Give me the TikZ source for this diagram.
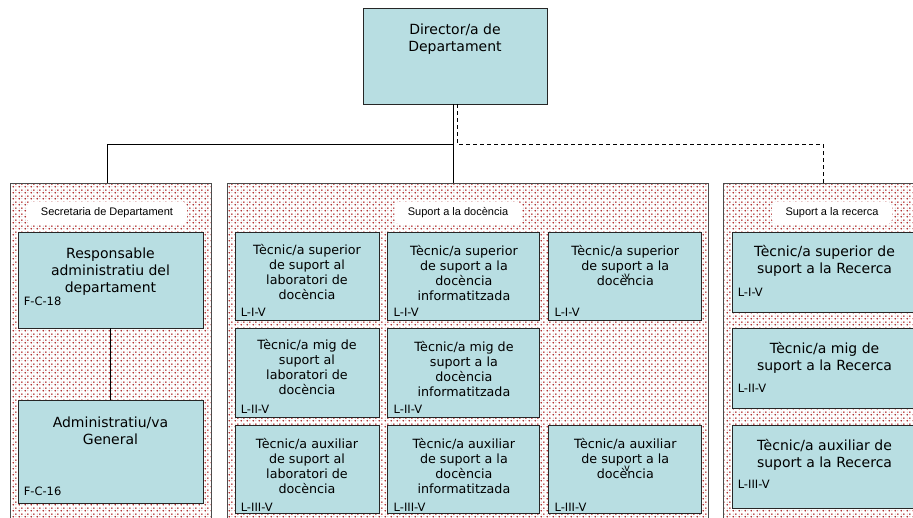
\documentclass[tikz,border=0pt]{standalone}
\usepackage{fontspec}
\setmainfont{DejaVu Sans}
\newfontfamily\arialfont{Liberation Sans}
\usepackage{tikz}
\usetikzlibrary{positioning,patterns}
\definecolor{boxblue}{RGB}{184,222,226}
\definecolor{dotred}{RGB}{170,30,30}
\pgfdeclarepatternformonly{reddots}{\pgfpointorigin}{\pgfpoint{6pt}{6pt}}{\pgfpoint{6pt}{6pt}}{%
  \pgfpathcircle{\pgfpoint{1.5pt}{1.5pt}}{1pt}%
  \pgfpathcircle{\pgfpoint{4.5pt}{4.5pt}}{1pt}%
  \pgfusepath{fill}}
\pgfdeclarepatternformonly{greydots}{\pgfpointorigin}{\pgfpoint{6pt}{6pt}}{\pgfpoint{6pt}{6pt}}{%
  \pgfpathcircle{\pgfpoint{4.5pt}{1.5pt}}{0.6pt}%
  \pgfpathcircle{\pgfpoint{1.5pt}{4.5pt}}{0.6pt}%
  \pgfusepath{fill}}
\tikzset{
    %Define style for the job boxes
    posbox/.style={
           rectangle,
           draw=black!85, line width=0.9pt,
           fill=boxblue,
           inner sep=0pt},
    %Define style for the group panels
    panel/.style={
           rectangle,
           draw=black!70, line width=0.9pt,
           preaction={pattern=greydots, pattern color=black!35},
           pattern=reddots, pattern color=dotred,
           anchor=north west,
           inner sep=0pt},
    paneltitle/.style={
           rectangle,
           rounded corners=5pt,
           fill=white,
           font=\arialfont\fontsize{11}{13}\selectfont,
           inner sep=0pt},
    % text inside the boxes
    txt/.style={
           anchor=north,
           align=center,
           inner sep=0pt,
           yshift=#1},
    code/.style={
           anchor=west,
           inner sep=0pt,
           font=\fontsize{11.5}{13}\selectfont,
           xshift=6pt,
           yshift=#1},
    bigtext/.style={font=\fontsize{14}{17}\selectfont},
    midtext/.style={font=\fontsize{12.7}{15}\selectfont},
    % Define connector style
    conn/.style={draw=black, line width=0.8pt}
}

\begin{document}
\begin{tikzpicture}[x=1pt,y=-1pt]
\clip (0,0) rectangle (913,517);
 %panels
\node[panel, minimum width=201pt, minimum height=360pt](sec) at (10,183){};
\node[panel, minimum width=481pt, minimum height=360pt](doc) at (227,183){};
\node[panel, minimum width=200pt, minimum height=360pt](rec) at (723,183){};
\node[paneltitle, minimum width=160pt, minimum height=23pt](sectitle) at (107,213){Secretaria de Departament};
\node[paneltitle, minimum width=127pt, minimum height=23pt](doctitle) at (458,213){Suport a la docència};
\node[paneltitle, minimum width=120pt, minimum height=23pt](rectitle) at (832,213){Suport a la recerca};
 %director
\node[posbox, minimum width=184pt, minimum height=96pt,
      label={[txt=-16pt, bigtext]north:Director/a de\\Departament}](dir) at (455,56){};
 %secretaria
\node[posbox, minimum width=185pt, minimum height=96pt,
      label={[txt=-16pt, bigtext]north:Responsable\\administratiu del\\departament},
      label={[code=27pt]south west:F-C-18}](resp) at (110.5,280){};
\node[posbox, minimum width=185pt, minimum height=103pt, below=72pt of resp,
      label={[txt=-16pt, bigtext]north:Administratiu/va\\General},
      label={[code=13pt]south west:F-C-16}](admin){};
 %docencia
\node[posbox, minimum width=144pt, minimum height=88pt,
      label={[txt=-12.5pt, midtext]north:Tècnic/a superior\\de suport al\\laboratori de\\docència},
      label={[code=8pt]south west:L-I-V}](sup1) at (307,276){};
\node[posbox, minimum width=152pt, minimum height=88pt, right=8pt of sup1,
      label={[txt=-13.5pt, midtext]north:Tècnic/a superior\\de suport a la\\docència\\informatitzada},
      label={[code=8pt]south west:L-I-V}](sup2){};
\node[posbox, minimum width=153pt, minimum height=88pt, right=8pt of sup2,
      label={[txt=-13.5pt, midtext]north:Tècnic/a superior\\de suport a la\\doc\rlap{\raisebox{0.5em}{\kern0.35em\fontsize{10}{10}\selectfont v}}ència},
      label={[code=8pt]south west:L-I-V}](sup3){};
\node[posbox, minimum width=144pt, minimum height=89pt, below=8pt of sup1,
      label={[txt=-11pt, midtext]north:Tècnic/a mig de\\suport al\\laboratori de\\docència},
      label={[code=9pt]south west:L-II-V}](mig1){};
\node[posbox, minimum width=152pt, minimum height=89pt, below=8pt of sup2,
      label={[txt=-13pt, midtext]north:Tècnic/a mig de\\suport a la\\docència\\informatitzada},
      label={[code=9pt]south west:L-II-V}](mig2){};
\node[posbox, minimum width=144pt, minimum height=88pt, below=7pt of mig1,
      label={[txt=-12.5pt, midtext]north:Tècnic/a auxiliar\\de suport al\\laboratori de\\docència},
      label={[code=7pt]south west:L-III-V}](aux1){};
\node[posbox, minimum width=152pt, minimum height=88pt, below=7pt of mig2,
      label={[txt=-12.5pt, midtext]north:Tècnic/a auxiliar\\de suport a la\\docència\\informatitzada},
      label={[code=7pt]south west:L-III-V}](aux2){};
\node[posbox, minimum width=153pt, minimum height=88pt, right=8pt of aux2,
      label={[txt=-12.5pt, midtext]north:Tècnic/a auxiliar\\de suport a la\\doc\rlap{\raisebox{0.5em}{\kern0.35em\fontsize{10}{10}\selectfont v}}ència},
      label={[code=7pt]south west:L-III-V}](aux3){};
 %recerca
\node[posbox, minimum width=185pt, minimum height=80pt,
      label={[txt=-14pt, bigtext]north:Tècnic/a superior de\\suport a la Recerca},
      label={[code=20pt]south west:L-I-V}](rsup) at (824.5,272){};
\node[posbox, minimum width=185pt, minimum height=80pt, below=16pt of rsup,
      label={[txt=-14pt, bigtext]north:Tècnic/a mig de\\suport a la Recerca},
      label={[code=21pt]south west:L-II-V}](rmig){};
\node[posbox, minimum width=185pt, minimum height=83pt, below=16pt of rmig,
      label={[txt=-14pt, bigtext]north:Tècnic/a auxiliar de\\suport a la Recerca},
      label={[code=25pt]south west:L-III-V}](raux){};
 %connectors
\coordinate (bus) at (0,144);
\coordinate[xshift=-2pt] (dsol) at (dir.south);
\coordinate[xshift=2pt] (ddash) at (dir.south);
\path[conn]
    (dsol) -- (dsol |- doc.north)
    (dsol |- bus) -| ([xshift=-3.5pt]sec.north)
    (resp) -- (admin);
\draw[conn, dashed, dash pattern=on 4pt off 3pt] (ddash) |- (rec.north |- bus) -- (rec.north);
\end{tikzpicture}
\end{document}
